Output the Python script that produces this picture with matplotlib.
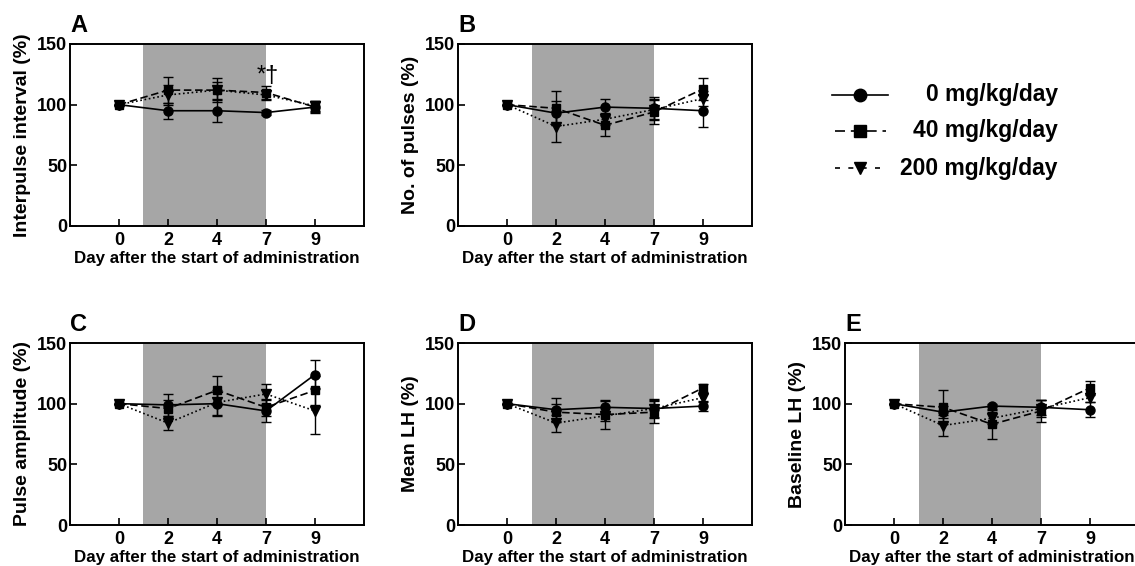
import matplotlib
matplotlib.use("Agg")
import matplotlib.pyplot as plt
import numpy as np

plt.rcParams['font.family'] = ['Liberation Sans', 'DejaVu Sans']
plt.rcParams['font.weight'] = 'bold'

days = ["0", "2", "4", "7", "9"]
doses = ["0 mg/kg/day", "40 mg/kg/day", "200 mg/kg/day"]

# Panel A: Interpulse interval (%)
A_0 = [100, 95, 95, 93.5, 98]
A_0e = [0, 6.5, 9, 2, 4]
A_40 = [100, 112, 112, 110, 98]
A_40e = [0, 11, 10, 5.5, 5]
A_200 = [100, 108, 112, 108, 99]
A_200e = [0, 8, 7, 4, 4]

# Panel B: No. of pulses (%)
B_0 = [100, 93, 98, 97, 95]
B_0e = [0, 10, 7, 9, 13]
B_40 = [100, 97, 83, 94, 113]
B_40e = [0, 14, 9, 10, 9]
B_200 = [100, 82, 88, 96, 105]
B_200e = [0, 13, 5, 9, 6]

# Panel C: Pulse amplitude (%)
C_0 = [100, 99, 100, 94, 124]
C_0e = [0, 9, 10, 9, 12]
C_40 = [100, 96, 111, 97, 111]
C_40e = [0, 7, 12, 7, 12]
C_200 = [100, 84, 101, 108, 94]
C_200e = [0, 6, 10, 8, 19]

# Panel D: Mean LH (%)
D_0 = [100, 95, 97, 96, 98]
D_0e = [0, 10, 5, 8, 4]
D_40 = [100, 93, 91, 93, 113]
D_40e = [0, 7, 12, 9, 3]
D_200 = [100, 84, 90, 96, 105]
D_200e = [0, 7, 4, 7, 4]

# Panel E: Baseline LH (%)
E_0 = [100, 93, 98, 97, 95]
E_0e = [0, 5, 2, 6, 6]
E_40 = [100, 97, 83, 94, 113]
E_40e = [0, 14, 12, 9, 6]
E_200 = [100, 82, 88, 96, 105]
E_200e = [0, 9, 5, 7, 4]

panels = [
    ("A", "Interpulse interval (%)", (A_0, A_0e), (A_40, A_40e), (A_200, A_200e)),
    ("B", "No. of pulses (%)", (B_0, B_0e), (B_40, B_40e), (B_200, B_200e)),
    ("C", "Pulse amplitude (%)", (C_0, C_0e), (C_40, C_40e), (C_200, C_200e)),
    ("D", "Mean LH (%)", (D_0, D_0e), (D_40, D_40e), (D_200, D_200e)),
    ("E", "Baseline LH (%)", (E_0, E_0e), (E_40, E_40e), (E_200, E_200e)),
]

W, H = 1135, 566
fig = plt.figure(figsize=(W / 100, H / 100), dpi=100)

aw, ah = 294, 182
positions = {
    "A": (70, 44), "B": (458, 44),
    "C": (70, 343), "D": (458, 343), "E": (845, 343),
}

styles = [
    dict(marker='o', ls='-', ms=6.5, dashes=None),
    dict(marker='s', ls='--', ms=6, dashes=(4.5, 2.2)),
    dict(marker='v', ls=':', ms=6.5, dashes=(1, 1.6)),
]

x = np.arange(len(days))
shade_color = '#a6a6a6'

for label, ylab, *series in panels:
    px, py = positions[label]
    ax = fig.add_axes([px / W, 1 - (py + ah) / H, aw / W, ah / H])
    ax.axvspan(0.5, 3.0, color=shade_color, lw=0, zorder=0)
    for k, ((vals, errs), st) in enumerate(zip(series, styles)):
        line, caps, bars = ax.errorbar(
            x, vals, yerr=errs, color='black', marker=st['marker'],
            ms=st['ms'], lw=1.2, elinewidth=1.0, capsize=3.5, capthick=1.0,
            ls=st['ls'], zorder=3 + k)
        if st['dashes'] is not None:
            line.set_dashes(st['dashes'])
    ax.set_xlim(-1, 5)
    ax.set_ylim(0, 150)
    ax.set_xticks(x)
    ax.set_xticklabels(days)
    ax.set_yticks([0, 50, 100, 150])
    ax.tick_params(axis='both', direction='in', labelsize=13, width=1.2, length=5)
    ax.tick_params(axis='y', pad=2)
    ax.tick_params(axis='x', pad=4)
    for t in ax.get_xticklabels() + ax.get_yticklabels():
        t.set_fontweight('bold')
    for sp in ax.spines.values():
        sp.set_linewidth(1.4)
    ax.set_xlabel("Day after the start of administration", fontsize=12.2,
                  fontweight='bold', labelpad=2)
    ax.set_ylabel(ylab, fontsize=14, fontweight='bold', labelpad=4)
    ax.text(0.0, 1.04, label, transform=ax.transAxes, fontsize=17,
            fontweight='bold', ha='left', va='bottom')
    if label == "A":
        ax.text(3.04, 124, "*\u2020", fontsize=17, fontweight='normal',
                ha='center', va='center')

# Legend (key samples)
lax = fig.add_axes([0, 0, 1, 1], facecolor='none')
lax.set_xlim(0, W)
lax.set_ylim(H, 0)
lax.axis('off')
rows_y = [95, 131, 168]
handle_x = [(832, 888), (835, 886), (835, 882)]
for (name, st, yy, hx) in zip(doses, styles, rows_y, handle_x):
    ln, = lax.plot(list(hx), [yy, yy], color='black', lw=1.2, ls=st['ls'])
    if st['dashes'] is not None:
        ln.set_dashes((6, 3.5) if st['marker'] == 's' else (3, 5))
    lax.plot([860], [yy], color='black', marker=st['marker'],
             ms=st['ms'] + 2.5, ls='none')
    lax.text(1058, yy, name, fontsize=16.5, fontweight='bold', ha='right',
             va='center')

fig.savefig("out.png", dpi=100)
